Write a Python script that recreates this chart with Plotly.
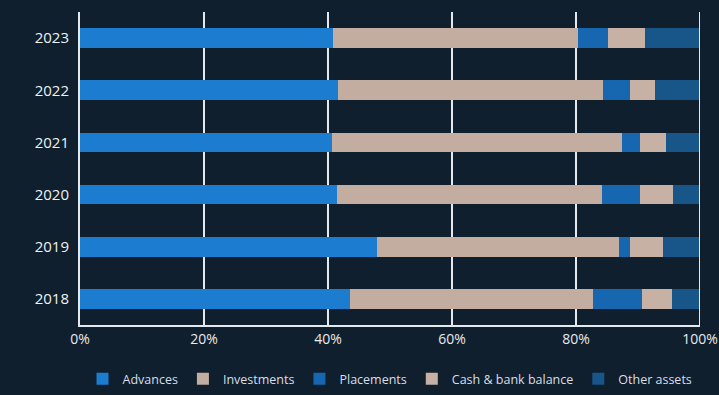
import plotly.graph_objects as go

years = ["2018", "2019", "2020", "2021", "2022", "2023"]
advances = [43.5, 47.9, 41.4, 40.6, 41.6, 40.8]
investments = [39.3, 39.0, 42.8, 46.8, 42.8, 39.5]
placements = [7.8, 1.8, 6.1, 2.9, 4.3, 4.9]
cash_bank = [4.9, 5.3, 5.3, 4.2, 4.0, 5.9]
other_assets = [4.5, 6.0, 4.4, 5.5, 7.3, 8.9]
x_ticks = [0, 20, 40, 60, 80, 100]
x_tick_labels = ["0%", "20%", "40%", "60%", "80%", "100%"]

series = [
    ("Advances", advances, "#1c7ccf"),
    ("Investments", investments, "#c3ada0"),
    ("Placements", placements, "#1667b0"),
    ("Cash & bank balance", cash_bank, "#c6b1a4"),
    ("Other assets", other_assets, "#185589"),
]

fig = go.Figure()
for name, vals, col in series:
    fig.add_trace(go.Bar(
        y=years, x=vals, name=name, orientation="h",
        marker=dict(color=col, line=dict(width=0)),
    ))

line_col = "#e4e9ef"
# right border line at 100%
fig.add_shape(type="line", xref="x", yref="paper", x0=100, x1=100, y0=0, y1=1,
              line=dict(color=line_col, width=2), layer="above")

fig.update_layout(
    barmode="stack",
    bargap=0.62,
    width=719, height=395,
    margin=dict(l=80, r=19, t=12, b=70, autoexpand=False),
    paper_bgcolor="#0f1f2e",
    plot_bgcolor="#0f1f2e",
    font=dict(family="Open Sans", color="#e6eaef", size=14),
    showlegend=True,
    legend=dict(
        orientation="h", x=0.5, xanchor="center", y=-0.125, yanchor="top",
        font=dict(size=12.5, color="#d8dee6"),
        traceorder="normal", itemsizing="constant",
        bgcolor="rgba(0,0,0,0)",
    ),
    xaxis=dict(
        range=[0, 100], tickvals=x_ticks, ticktext=x_tick_labels,
        showgrid=True, gridcolor=line_col, gridwidth=2,
        zeroline=False, showline=True, linecolor=line_col, linewidth=2,
        mirror=False, ticks="", tickfont=dict(size=14, color="#e6eaef"),
        ticklabeloverflow="allow",
        fixedrange=True, automargin=False,
    ),
    yaxis=dict(
        showgrid=False, zeroline=False, showline=True, linecolor=line_col,
        linewidth=2, ticks="", ticklabelstandoff=6,
        tickfont=dict(size=15, color="#eef1f4"),
        fixedrange=True, automargin=False,
    ),
)

fig.write_html("out.html")
